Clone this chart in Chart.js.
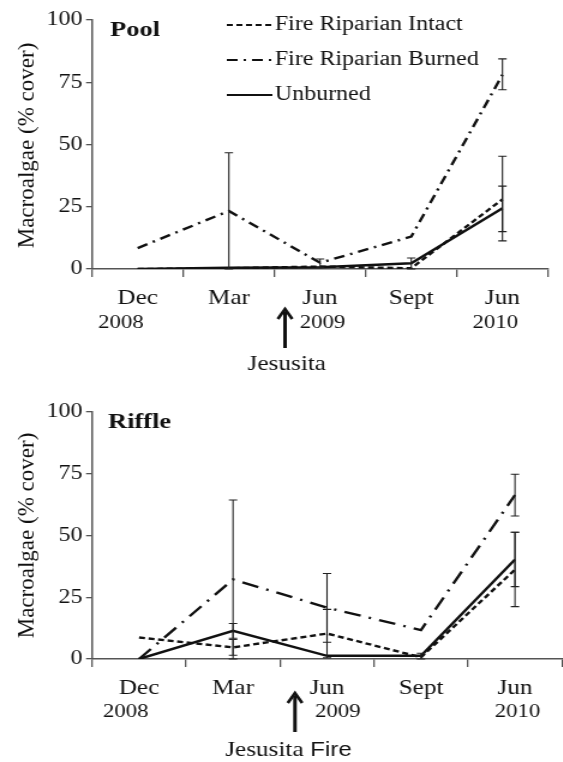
<!DOCTYPE html>
<html>
<head>
<meta charset="utf-8">
<script src="https://cdn.jsdelivr.net/npm/chart.js@4.4.1/dist/chart.umd.min.js"></script>
<style>
  body { margin: 0; background: #fff; }
  .wrap { position: absolute; left: 0; transform: scaleX(1.2); transform-origin: 0 0; }
  canvas { display: block; }
</style>
</head>
<body>
<div class="wrap" style="top:0"><canvas id="pool" width="469" height="380"></canvas></div>
<div class="wrap" style="top:380px"><canvas id="riffle" width="469" height="382"></canvas></div>
<script>
const months = ["Dec", "Mar", "Jun", "Sept", "Jun"];
const years = ["2008", "", "2009", "", "2010"];
const yTicks = [0, 25, 50, 75, 100];
const seriesNames = ["Fire Riparian Intact", "Fire Riparian Burned", "Unburned"];
const yTitle = "Macroalgae (% cover)";

// Pool
const poolIntact = [0, 0.3, 1, 0.3, 28];
const poolBurned = [8.4, 23.3, 2.5, 13, 78];
const poolUnburned = [0, 0.5, 0.7, 2.3, 24.4];
// [category, low, high]
const poolErrors = [[1, 0, 46.7], [2, 0.7, 4], [3, 0, 4.4], [4, 72, 84.4], [4, 11.3, 45.3], [4, 15, 33.3]];

// Riffle
const riffleIntact = [8.7, 4.7, 10.3, 0.7, 36.2];
const riffleBurned = [0, 32.2, 20.8, 11.7, 66.4];
const riffleUnburned = [0, 11.4, 1.3, 1.3, 40.3];
const riffleErrors = [[1, 0, 64.4], [1, 8.4, 14.4], [1, 1.5, 7.9], [2, 6.8, 34.6], [2, 0.5, 20.1], [3, 0, 2.3], [4, 57.9, 74.8], [4, 29.3, 51.3], [4, 21.2, 51.3]];

const serif = "'Liberation Serif', 'DejaVu Serif', serif";
const axisColor = "#555";
const stretch = 1.2; // the page is stretched sideways by the css transform

function overlay(opts) {
  return {
    id: "overlay_" + opts.title,
    afterDatasetsDraw(chart) {
      const ctx = chart.ctx;
      const xs = chart.scales.x, ys = chart.scales.y;
      const area = chart.chartArea;
      ctx.save();
      // error bars
      ctx.strokeStyle = "#222";
      ctx.lineWidth = 1.1;
      opts.errors.forEach(([i, lo, hi]) => {
        const x = xs.getPixelForValue(i);
        const y1 = ys.getPixelForValue(lo), y2 = ys.getPixelForValue(hi);
        ctx.beginPath();
        ctx.moveTo(x, y1); ctx.lineTo(x, y2);
        ctx.moveTo(x - 3.5, y1); ctx.lineTo(x + 3.5, y1);
        ctx.moveTo(x - 3.5, y2); ctx.lineTo(x + 3.5, y2);
        ctx.stroke();
      });
      ctx.fillStyle = "#111";
      // y axis title, drawn unstretched
      ctx.save();
      ctx.scale(1 / stretch, 1);
      ctx.translate(28, (area.top + area.bottom) / 2 + opts.titleShift);
      ctx.rotate(-Math.PI / 2);
      ctx.font = "23px " + serif;
      ctx.textAlign = "center";
      ctx.textBaseline = "middle";
      ctx.fillText(yTitle, 0, 0);
      ctx.restore();
      // panel title
      ctx.font = "bold 22px " + serif;
      ctx.textBaseline = "middle";
      ctx.textAlign = "left";
      ctx.fillText(opts.title, opts.titleX, opts.titleY);
      // years under months
      ctx.font = "19px " + serif;
      ctx.textAlign = "center";
      years.forEach((yr, i) => {
        if (!yr) return;
        ctx.fillText(yr, xs.getPixelForValue(i) + opts.yearShift[i], opts.yearY);
      });
      // fire arrow
      const ax = opts.arrow[0], tip = opts.arrow[1], tail = opts.arrow[2];
      ctx.strokeStyle = "#111";
      ctx.lineWidth = 3;
      ctx.beginPath();
      ctx.moveTo(ax, tail); ctx.lineTo(ax, tip + 4);
      ctx.stroke();
      ctx.lineWidth = 2.6;
      ctx.beginPath();
      ctx.moveTo(ax - 6, tip + 11); ctx.lineTo(ax, tip + 1); ctx.lineTo(ax + 6, tip + 11);
      ctx.stroke();
      // fire label
      ctx.font = "21px " + serif;
      if (opts.fireWord) {
        ctx.textAlign = "right";
        ctx.fillText("Jesusita", opts.labelX, opts.labelY);
        ctx.textAlign = "left";
        ctx.font = "20px 'Liberation Sans', Arial, sans-serif";
        ctx.fillText(" Fire", opts.labelX, opts.labelY);
      } else {
        ctx.textAlign = "center";
        ctx.fillText("Jesusita", opts.labelX, opts.labelY);
      }
      // legend
      if (opts.legend) {
        ctx.font = "20px " + serif;
        ctx.textAlign = "left";
        chart.data.datasets.forEach((ds, k) => {
          const ly = 25 + k * 35;
          ctx.strokeStyle = "#111";
          ctx.lineWidth = 2.2;
          ctx.setLineDash(ds.borderDash);
          ctx.beginPath();
          ctx.moveTo(189, ly); ctx.lineTo(227, ly);
          ctx.stroke();
          ctx.setLineDash([]);
          ctx.fillText(ds.label, 229, ly);
        });
      }
      ctx.restore();
    }
  };
}

function makeChart(id, intact, burned, unburned, burnedDash, opts) {
  const dsBase = { borderColor: "#111", borderWidth: 2.4, pointRadius: 0, tension: 0, fill: false };
  return new Chart(document.getElementById(id), {
    type: "line",
    data: {
      labels: months,
      datasets: [
        { ...dsBase, label: seriesNames[0], data: intact, borderDash: [5, 3] },
        { ...dsBase, label: seriesNames[1], data: burned, borderDash: burnedDash },
        { ...dsBase, label: seriesNames[2], data: unburned, borderDash: [] }
      ]
    },
    options: {
      responsive: false,
      animation: false,
      layout: { padding: { top: opts.top, right: opts.right, left: 0, bottom: 0 } },
      plugins: { legend: { display: false }, tooltip: { enabled: false } },
      scales: {
        x: {
          offset: true,
          afterFit: (s) => { s.height = opts.xHeight; },
          grid: { drawOnChartArea: false, offset: true, tickLength: 8, color: axisColor, lineWidth: 1.3 },
          border: { color: axisColor, width: 1.5 },
          ticks: { color: "#111", padding: 9, font: { family: serif, size: 21 } }
        },
        y: {
          min: 0,
          max: 100,
          afterBuildTicks: (s) => { s.ticks = yTicks.map((v) => ({ value: v })); },
          afterFit: (s) => { s.width = 76.7; },
          grid: { drawOnChartArea: false, tickLength: 5, color: axisColor, lineWidth: 1.3 },
          border: { color: axisColor, width: 1.5 },
          ticks: { color: "#111", padding: 3, font: { family: serif, size: 20 } }
        }
      }
    },
    plugins: [overlay(opts)]
  });
}

makeChart("pool", poolIntact, poolBurned, poolUnburned, [9, 5, 2, 5], {
  title: "Pool", titleX: 91.7, titleY: 30, titleShift: 1, errors: poolErrors, legend: true,
  top: 20, right: 12.3, xHeight: 111,
  yearShift: [-14, 0, 2, 0, -6], yearY: 323,
  arrow: [237.5, 308, 348], labelX: 239, labelY: 364, fireWord: false
});

makeChart("riffle", riffleIntact, riffleBurned, riffleUnburned, [14, 7, 2, 7], {
  title: "Riffle", titleX: 90, titleY: 42, titleShift: 0, errors: riffleErrors, legend: false,
  top: 32, right: 0.7, xHeight: 103,
  yearShift: [-11, 0, 9, 0, 2], yearY: 332,
  arrow: [245.8, 312, 352], labelX: 253, labelY: 370, fireWord: true
});
</script>
</body>
</html>
